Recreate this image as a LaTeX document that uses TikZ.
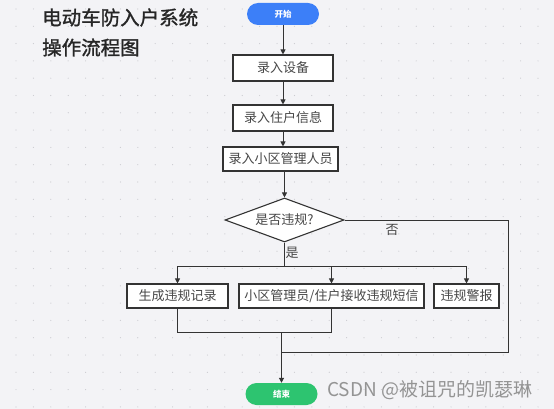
\documentclass[tikz,border=0pt]{standalone}
\usepackage{fontspec}
\setmainfont{Noto Sans CJK SC}
\newfontfamily\titlefont[FakeBold=1.4]{Noto Sans CJK SC}
\usepackage{xcolor}
\usetikzlibrary{shapes.geometric,arrows.meta}

\definecolor{bgcol}{HTML}{F3F3F6}
\definecolor{dotcol}{HTML}{CBCBD0}
\definecolor{linecol}{HTML}{333333}
\definecolor{startcol}{HTML}{3C7FF8}
\definecolor{endcol}{HTML}{2DC470}

\tikzset{
  box/.style={draw=linecol, fill=white, line width=1.1pt, minimum height=24pt,
    inner sep=2pt, text=black!72, font=\fontsize{13}{15}\selectfont},
  pill/.style={rounded corners=11pt, minimum width=72pt, minimum height=22pt,
    inner sep=0pt, text=white, font=\fontsize{8.5}{10}\selectfont\bfseries},
  arr/.style={draw=linecol, line width=1pt, -{Triangle[length=5pt,width=5pt]}},
  ln/.style={draw=linecol, line width=1pt}
}

\begin{document}
\begin{tikzpicture}[x=1pt,y=-1pt]
\useasboundingbox (0,0) rectangle (554,409);
\fill[bgcol] (0,0) rectangle (554,409);
% background dots
\foreach \i in {0,...,31}
  \foreach \j in {0,...,23}
    \fill[dotcol] (16+17.4*\i, 9+17.3*\j) circle (0.6pt);

% title
\node[anchor=west, font=\fontsize{19.5}{22}\titlefont, text=black!85, inner sep=0pt] (title1) at (42,17.5) {电动车防入户系统};
\node[anchor=west, font=\fontsize{19.5}{22}\titlefont, text=black!85, inner sep=0pt] (title2) at (42,47.5) {操作流程图};

% nodes
\node[pill, fill=startcol] (start) at (283,14) {开始};
\node[box, minimum width=100pt, minimum height=26pt] (dev) at (283,68) {录入设备};
\node[box, minimum width=100pt, minimum height=26pt] (res) at (283,118) {录入住户信息};
\node[box, minimum width=115pt] (mgr) at (280.5,159) {录入小区管理人员};
\node[diamond, draw=linecol, fill=white, line width=1.1pt, aspect=2.7, inner sep=0pt,
      minimum width=119pt, minimum height=44pt, text=black!72,
      font=\fontsize{13}{15}\selectfont] (check) at (284.5,220) {是否违规?};
\node[box, minimum width=101pt] (rec) at (177.5,296) {生成违规记录};
\node[box, minimum width=185pt] (sms) at (331.5,296) {小区管理员/住户接收违规短信};
\node[box, minimum width=65pt] (alarm) at (466.5,296) {违规警报};
\node[pill, fill=endcol] (stop) at (281.5,394) {结束};

% labels
\node[text=black!72, font=\fontsize{13}{15}\selectfont, inner sep=0pt] (yeslbl) at (292,253) {是};
\node[text=black!72, font=\fontsize{13}{15}\selectfont, inner sep=0pt] (nolbl) at (392,230) {否};

\coordinate (yes) at (284.5,266);
\coordinate (join) at (281.5,332);
\coordinate (noturn) at (508,352);

% connectors
\draw[arr] (start) -- (dev);
\draw[arr] (dev) -- (res);
\draw[arr] (res.south) -- (res.south |- mgr.north);
\draw[arr] (check.north |- mgr.south) -- (check.north);
\draw[ln] (check.south) -- (yes);
\draw[arr] (yes) -| (rec.north);
\draw[arr] (yes) -| (alarm.north);
\draw[arr] (yes -| sms.north) -- (sms.north);
\draw[ln] (rec.south) |- (sms.south |- join) -- (sms.south);
\draw[arr] (join) -- (stop.north);
\draw[ln] (check.east) -| (noturn) -- (noturn -| stop.north);

% watermark
\node[anchor=west, text=black!42, font=\fontsize{19}{22}\selectfont, inner sep=0pt] (mark) at (327,390) {CSDN @被诅咒的凯瑟琳};
\end{tikzpicture}
\end{document}
